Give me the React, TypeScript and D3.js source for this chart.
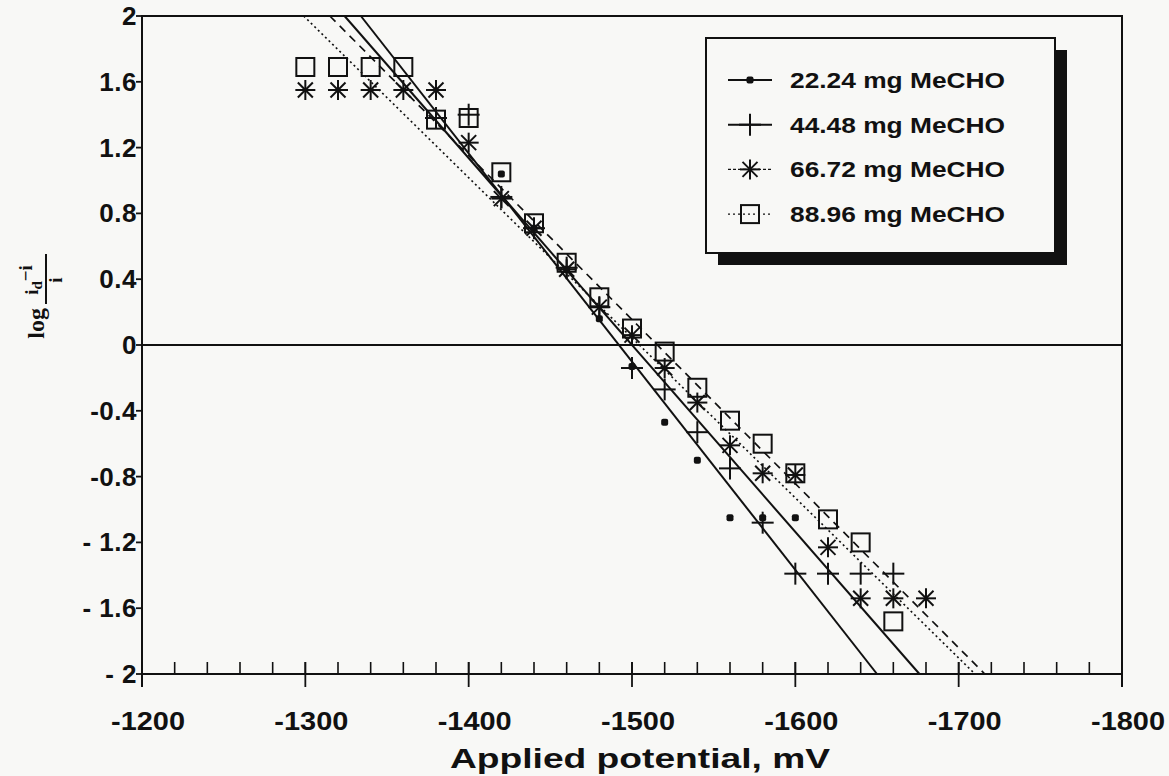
import React from "react";
import * as d3 from "d3";

// potentials (mV) and log((id - i)/i) values
const s1Potential = [-1420, -1440, -1460, -1480, -1500, -1520, -1540, -1560, -1580, -1600];
const s1Value = [1.04, 0.71, 0.46, 0.16, -0.13, -0.47, -0.7, -1.05, -1.05, -1.05];

const s2Potential = [-1380, -1400, -1420, -1440, -1460, -1480, -1500, -1520, -1540, -1560, -1580, -1600, -1620, -1640, -1660];
const s2Value = [1.38, 1.4, 0.9, 0.71, 0.47, 0.23, -0.14, -0.27, -0.53, -0.75, -1.08, -1.39, -1.39, -1.39, -1.39];

const s3Potential = [-1300, -1320, -1340, -1360, -1380, -1400, -1420, -1440, -1460, -1480, -1500, -1520, -1540, -1560, -1580, -1600, -1620, -1640, -1660, -1680];
const s3Value = [1.55, 1.55, 1.55, 1.55, 1.55, 1.23, 0.89, 0.71, 0.46, 0.23, 0.06, -0.14, -0.35, -0.61, -0.78, -0.79, -1.23, -1.54, -1.54, -1.54];

const s4Potential = [-1300, -1320, -1340, -1360, -1380, -1400, -1420, -1440, -1460, -1480, -1500, -1520, -1540, -1560, -1580, -1600, -1620, -1640, -1660];
const s4Value = [1.69, 1.69, 1.69, 1.69, 1.37, 1.38, 1.05, 0.74, 0.5, 0.29, 0.1, -0.04, -0.26, -0.46, -0.6, -0.78, -1.06, -1.2, -1.68];

// fitted lines: potential where each line is at log = 2 and log = -2
const fitTopPotential = [-1334, -1324, -1315, -1299];
const fitBottomPotential = [-1650, -1676, -1716, -1710];

const seriesNames = ["22.24 mg MeCHO", "44.48 mg MeCHO", "66.72 mg MeCHO", "88.96 mg MeCHO"];
const markerKinds = ["dot", "plus", "star", "square"];
const lineDash = [null, null, "8 6", "2 3"];

const xMajorTicks = [-1200, -1300, -1400, -1500, -1600, -1700, -1800];
const xTickLabels = ["-1200", "-1300", "-1400", "-1500", "-1600", "-1700", "-1800"];
const yTicks = [-2, -1.6, -1.2, -0.8, -0.4, 0, 0.4, 0.8, 1.2, 1.6, 2];
const yTickLabels = ["- 2", "- 1.6", "- 1.2", "-0.8", "-0.4", "0", "0.4", "0.8", "1.2", "1.6", "2"];

const W = 1169, H = 776;
const INK = "#111";
const PAPER = "#f8f8f6";
const SANS = "'Liberation Sans', Arial, sans-serif";
const SERIF = "'Liberation Serif', 'Times New Roman', serif";

const x = d3.scaleLinear().domain([-1200, -1800]).range([142, 1122]);
const y = d3.scaleLinear().domain([-2, 2]).range([674, 16]);

const allPotentials = [s1Potential, s2Potential, s3Potential, s4Potential];
const allValues = [s1Value, s2Value, s3Value, s4Value];

function Marker({ kind, cx, cy }: { kind: string; cx: number; cy: number }) {
  if (kind === "dot") return <rect x={cx - 3.5} y={cy - 3.5} width={7} height={7} rx={2} fill={INK} />;
  if (kind === "plus")
    return (
      <g stroke={INK} strokeWidth={2}>
        <line x1={cx - 11} x2={cx + 11} y1={cy} y2={cy} />
        <line x1={cx} x2={cx} y1={cy - 11} y2={cy + 11} />
      </g>
    );
  if (kind === "star") {
    const r = 10, d = 7.5;
    return (
      <g stroke={INK} strokeWidth={2}>
        <line x1={cx - r} x2={cx + r} y1={cy} y2={cy} />
        <line x1={cx} x2={cx} y1={cy - r} y2={cy + r} />
        <line x1={cx - d} x2={cx + d} y1={cy - d} y2={cy + d} />
        <line x1={cx - d} x2={cx + d} y1={cy + d} y2={cy - d} />
      </g>
    );
  }
  return <rect x={cx - 9} y={cy - 9} width={18} height={18} fill="none" stroke={INK} strokeWidth={2} />;
}

export default function App() {
  const minorTicks = d3.range(-1200, -1801, -20);
  const line = d3.line<[number, number]>().x((d) => x(d[0])).y((d) => y(d[1]));

  return (
    <svg width={W} height={H} style={{ position: "absolute", left: 0, top: 0 }}>
      <rect width={W} height={H} fill={PAPER} />

      {/* frame */}
      <path d={`M${x(-1200)},${y(-2) + 13} V${y(2)} H${x(-1800)} V${y(-2) + 13}`} fill="none" stroke={INK} strokeWidth={2} />
      <line x1={x(-1200)} x2={x(-1800)} y1={y(-2)} y2={y(-2)} stroke={INK} strokeWidth={2} />
      <line x1={x(-1200)} x2={x(-1800)} y1={y(0)} y2={y(0)} stroke={INK} strokeWidth={2} />

      {/* x ticks */}
      {minorTicks.map((t) => (
        <line key={"m" + t} x1={x(t)} x2={x(t)} y1={y(-2) - 12} y2={y(-2)} stroke={INK} strokeWidth={1.6} />
      ))}
      {xMajorTicks.map((t, i) => (
        <g key={"M" + t}>
          <line x1={x(t)} x2={x(t)} y1={y(-2) - 12} y2={y(-2) + 13} stroke={INK} strokeWidth={1.8} />
          <text x={x(t) + 6} y={y(-2) + 56} textAnchor="middle" fontFamily={SANS} fontWeight="bold" fontSize={26}
            textLength={74} lengthAdjust="spacingAndGlyphs" fill={INK}>
            {xTickLabels[i]}
          </text>
        </g>
      ))}

      {/* y ticks */}
      {yTicks.map((t, i) => (
        <g key={"y" + t}>
          <line x1={x(-1200) - 6} x2={x(-1200)} y1={y(t)} y2={y(t)} stroke={INK} strokeWidth={1.8} />
          <text x={137} y={y(t) + 9} textAnchor="end" fontFamily={SANS} fontWeight="bold" fontSize={26}
            letterSpacing={0.5} fill={INK}>
            {yTickLabels[i]}
          </text>
        </g>
      ))}

      {/* axis titles */}
      <text x={640} y={768} textAnchor="middle" fontFamily={SANS} fontWeight="bold" fontSize={27}
        textLength={380} lengthAdjust="spacingAndGlyphs" fill={INK}>
        Applied potential, mV
      </text>
      <g transform="translate(46,280) rotate(-90)" fill={INK} fontFamily={SERIF} fontWeight="bold">
        <text x={-28} y={-2} textAnchor="end" fontSize={24}>log</text>
        <line x1={-24} x2={26} y1={0} y2={0} stroke={INK} strokeWidth={2} />
        <text x={0} y={-8} textAnchor="middle" fontSize={19}>
          i<tspan fontSize={15} dy={4}>d</tspan>
          <tspan dy={-10}>−i</tspan>
        </text>
        <text x={0} y={16} textAnchor="middle" fontSize={19}>i</text>
      </g>

      {/* fitted lines */}
      {fitTopPotential.map((p, i) => (
        <path key={"f" + i} d={line([[p, 2], [fitBottomPotential[i], -2]]) || ""} fill="none" stroke={INK}
          strokeWidth={i < 2 ? 2 : 1.7} strokeDasharray={lineDash[i] || undefined} />
      ))}

      {/* data markers */}
      {allPotentials.map((ps, si) => (
        <g key={"s" + si}>
          {ps.map((p, j) => (
            <Marker key={j} kind={markerKinds[si]} cx={x(p)} cy={y(allValues[si][j])} />
          ))}
        </g>
      ))}

      {/* legend */}
      <rect x={718} y={50} width={349} height={215} fill={INK} />
      <rect x={706} y={38} width={349} height={215} fill={PAPER} stroke={INK} strokeWidth={2} />
      {seriesNames.map((name, i) => {
        const ly = 80 + i * 44.7;
        return (
          <g key={"l" + i}>
            <line x1={728} x2={772} y1={ly} y2={ly} stroke={INK} strokeWidth={i < 2 ? 2 : 1.4}
              strokeDasharray={i === 2 ? "3 2" : i === 3 ? "2 3" : undefined} />
            <Marker kind={markerKinds[i]} cx={750} cy={ly} />
            <text x={790} y={ly + 8} fontFamily={SANS} fontWeight="bold" fontSize={22} textLength={215}
              lengthAdjust="spacingAndGlyphs" fill={INK}>
              {name}
            </text>
          </g>
        );
      })}
    </svg>
  );
}
